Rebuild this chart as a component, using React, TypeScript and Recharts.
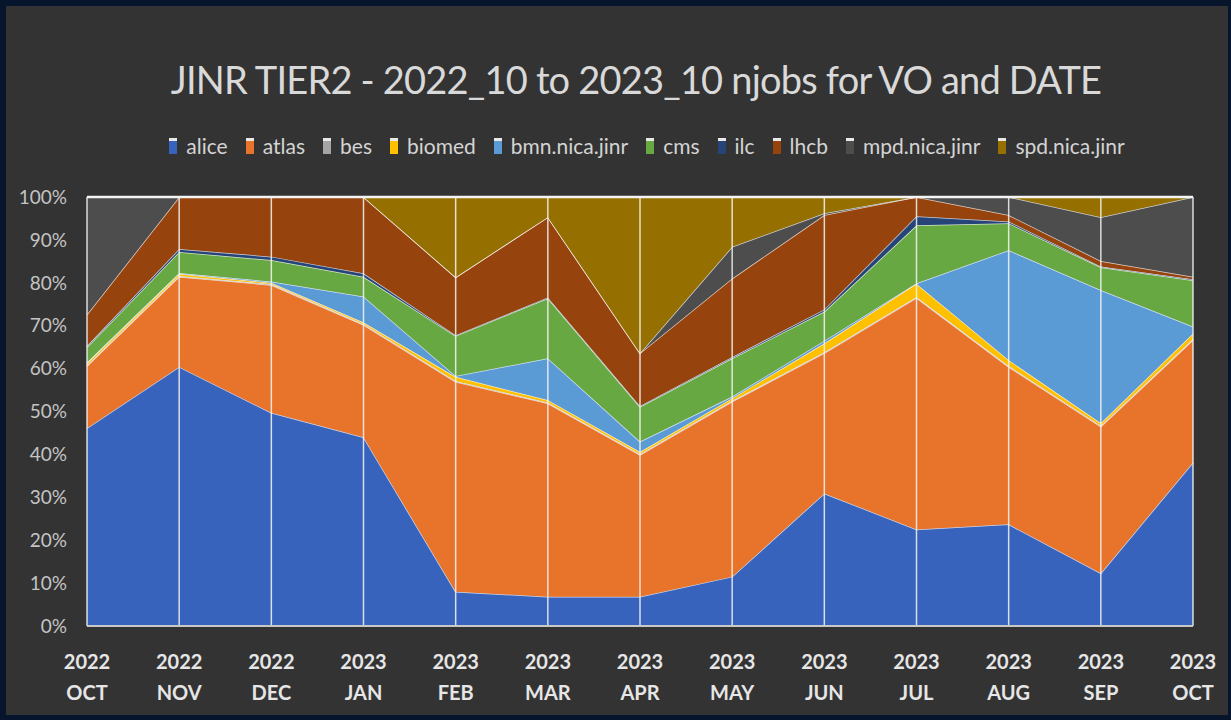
import React from "react";
import { AreaChart, Area, XAxis, YAxis, ReferenceLine } from "recharts";

// categories
const years = ["2022", "2022", "2022", "2023", "2023", "2023", "2023", "2023", "2023", "2023", "2023", "2023", "2023"];
const months = ["OCT", "NOV", "DEC", "JAN", "FEB", "MAR", "APR", "MAY", "JUN", "JUL", "AUG", "SEP", "OCT"];

// share of njobs per VO, in %
const alice = [46.1, 60.4, 49.7, 44.0, 8.0, 6.8, 6.8, 11.5, 30.9, 22.5, 23.7, 12.3, 38.1];
const atlas = [14.5, 21.0, 29.8, 26.2, 48.9, 45.1, 33.1, 40.8, 32.7, 53.9, 36.7, 34.2, 28.6];
const bes = [0.2, 0.2, 0.2, 0.2, 0.2, 0.2, 0.2, 0.2, 0.2, 0.2, 0.2, 0.2, 0.2];
const biomed = [0.5, 0.5, 0.3, 0.4, 1.0, 0.6, 0.5, 0.6, 2.1, 3.1, 1.4, 0.6, 1.3];
const bmn = [0.2, 0.2, 0.3, 6.0, 0.2, 9.7, 2.4, 0.4, 0.6, 0.1, 25.6, 31.0, 1.6];
const cms = [3.5, 4.9, 5.0, 4.6, 9.3, 14.0, 8.1, 8.9, 6.8, 13.5, 6.3, 5.3, 10.8];
const ilc = [0.3, 0.7, 0.8, 0.8, 0.2, 0.2, 0.2, 0.3, 0.5, 2.1, 0.4, 0.2, 0.2];
const lhcb = [7.3, 12.1, 13.9, 17.8, 13.5, 18.7, 12.3, 18.3, 22.0, 4.5, 1.5, 1.3, 0.6];
const mpd = [27.4, 0, 0, 0, 0, 0, 0, 7.4, 0.4, 0, 4.2, 10.2, 18.6];
const spd = [0, 0, 0, 0, 18.7, 4.7, 36.4, 11.6, 3.8, 0, 0, 4.7, 0];

const yTicks = [0, 0.1, 0.2, 0.3, 0.4, 0.5, 0.6, 0.7, 0.8, 0.9, 1];

const series = [
  { key: "alice", name: "alice", color: "#3763bd", values: alice },
  { key: "atlas", name: "atlas", color: "#e8732b", values: atlas },
  { key: "bes", name: "bes", color: "#a5a5a5", values: bes },
  { key: "biomed", name: "biomed", color: "#ffc000", values: biomed },
  { key: "bmn", name: "bmn.nica.jinr", color: "#5b9bd5", values: bmn },
  { key: "cms", name: "cms", color: "#68a843", values: cms },
  { key: "ilc", name: "ilc", color: "#264478", values: ilc },
  { key: "lhcb", name: "lhcb", color: "#96430e", values: lhcb },
  { key: "mpd", name: "mpd.nica.jinr", color: "#4d4d4d", values: mpd },
  { key: "spd", name: "spd.nica.jinr", color: "#957000", values: spd },
];

const data = months.map((m, i) => {
  const row: Record<string, string | number> = { date: `${years[i]} ${m}` };
  series.forEach((s) => {
    row[s.key] = s.values[i];
  });
  return row;
});

const FONT = "Lato, 'Open Sans', sans-serif";

function DateTick({ x, y, payload }: any) {
  const [yr, mo] = String(payload.value).split(" ");
  return (
    <g transform={`translate(${x},${y})`}>
      <text x={0} y={43} textAnchor="middle" fill="#e6e6e6" fontSize={20} fontWeight="bold" fontFamily={FONT}>
        {yr}
      </text>
      <text x={0} y={74} textAnchor="middle" fill="#e6e6e6" fontSize={20} fontWeight="bold" fontFamily={FONT}>
        {mo}
      </text>
    </g>
  );
}

export default function App() {
  return (
    <div style={{ position: "absolute", left: 0, top: 0, width: 1231, height: 720, background: "#07152c", overflow: "hidden" }}>
      <div style={{ position: "absolute", left: 6, top: 6, width: 1222, height: 709, background: "#333333" }} />

      <div style={{ position: "absolute", left: 0, top: 51, width: 1272, textAlign: "center", fontFamily: FONT, fontSize: 38, lineHeight: "56px", letterSpacing: -0.8, color: "#d9d9d9", whiteSpace: "nowrap" }}>
        JINR TIER2 - 2022_10 to 2023_10 njobs for VO and DATE
      </div>

      <div style={{ position: "absolute", left: 0, top: 133, width: 1294, display: "flex", justifyContent: "center", alignItems: "center", gap: 18, fontFamily: FONT, fontSize: 21, color: "#d4d4d4", whiteSpace: "nowrap" }}>
        {series.map((s) => (
          <div key={s.key} style={{ display: "flex", alignItems: "center", gap: 9 }}>
            <span style={{ display: "inline-block", width: 8, height: 13, background: s.color, borderTop: "3px solid #e8e8e8" }} />
            <span>{s.name}</span>
          </div>
        ))}
      </div>

      <div style={{ position: "absolute", left: 0, top: 0 }}>
        <AreaChart width={1231} height={720} data={data} stackOffset="expand" margin={{ top: 197, right: 38, bottom: 0, left: 20 }}>
          <XAxis dataKey="date" height={94} tick={<DateTick />} tickLine={false} tickSize={0} tickMargin={0} axisLine={{ stroke: "#c8c8c8", strokeWidth: 2 }} interval={0} />
          <YAxis width={67} ticks={yTicks} domain={[0, 1]} tickFormatter={(v: number) => `${Math.round(v * 100)}%`} tick={{ fill: "#c4c4c4", fontSize: 19, fontFamily: FONT }} axisLine={false} tickLine={false} tickSize={0} tickMargin={20} />
          {series.map((s) => (
            <Area
              key={s.key}
              type="linear"
              dataKey={s.key}
              name={s.name}
              stackId="vo"
              fill={s.color}
              fillOpacity={1}
              stroke="#ffffff"
              strokeOpacity={0.75}
              strokeWidth={1.5}
              isAnimationActive={false}
            />
          ))}
          {data.map((d) => (
            <ReferenceLine key={String(d.date)} x={d.date as string} stroke="#f4f4f4" strokeOpacity={0.85} strokeWidth={1.5} />
          ))}
          <ReferenceLine y={1} stroke="#f4f4f4" strokeWidth={2.5} />
        </AreaChart>
      </div>
    </div>
  );
}
